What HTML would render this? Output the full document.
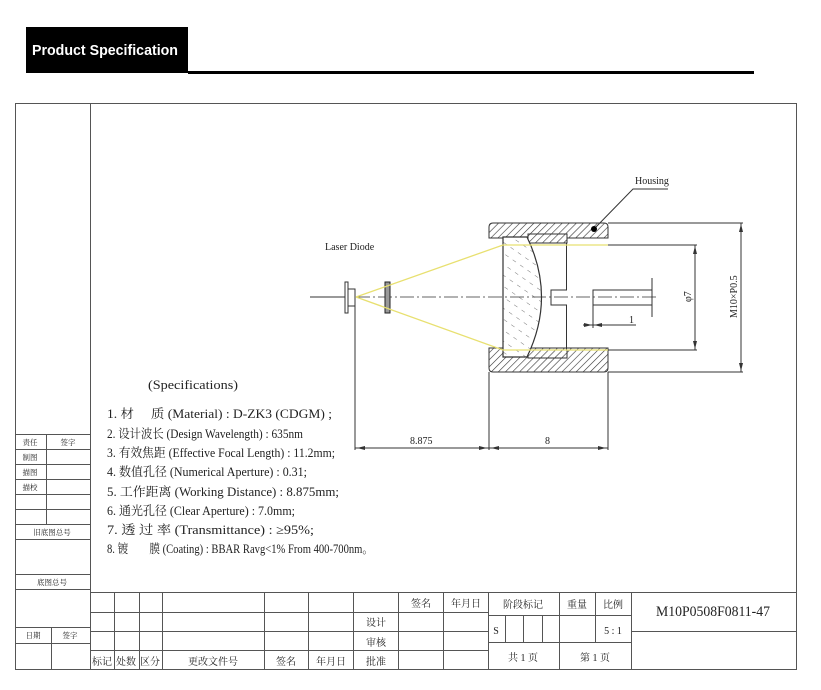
<!DOCTYPE html>
<html><head><meta charset="utf-8"><style>
html,body{margin:0;padding:0;background:#fff;}
svg{display:block;}
text{font-family:"Liberation Serif","Noto Serif CJK SC","Noto Sans CJK SC",serif;fill:#222;}
</style></head><body>
<svg width="821" height="690" viewBox="0 0 821 690" xmlns="http://www.w3.org/2000/svg">
<defs>
<pattern id="h" patternUnits="userSpaceOnUse" width="5" height="5" patternTransform="rotate(45)">
<rect width="5" height="5" fill="#fff"/><line x1="0" y1="0" x2="0" y2="5" stroke="#333" stroke-width="1.2"/></pattern>
<pattern id="g" patternUnits="userSpaceOnUse" width="9" height="9" patternTransform="rotate(-55)">
<rect width="9" height="9" fill="#fff"/><line x1="0" y1="2" x2="0" y2="6" stroke="#555" stroke-width="0.8"/></pattern>
</defs>
<rect x="26" y="27" width="162" height="46" fill="#000"/>
<text x="32" y="55" style="font-family:'Liberation Sans',sans-serif;font-weight:bold;font-size:14.5px;fill:#fff" textLength="146" lengthAdjust="spacingAndGlyphs">Product Specification</text>
<rect x="188" y="71" width="566" height="3" fill="#000"/>
<g fill="none" stroke="#555" stroke-width="1">
<rect x="15.5" y="103.5" width="781" height="566"/>
<line x1="90.5" y1="103" x2="90.5" y2="670"/>
<path d="M15 434.5H90M15 449.5H90M15 464.5H90M15 479.5H90M15 494.5H90M15 509.5H90M15 524.5H90M15 539.5H90M15 574.5H90M15 589.5H90M15 627.5H90M15 643.5H90"/>
<path d="M46.5 434V524M51.5 627V670"/>
<path d="M90 592.5H796M90 612.5H488M90 631.5H488M90 650.5H488M488 615.5H631M488 642.5H631M631 631.5H796"/>
<path d="M114.5 592V670M139.5 592V670M162.5 592V670M264.5 592V670M308.5 592V670M353.5 592V670M398.5 592V670M443.5 592V670M488.5 592V670M559.5 592V670M595.5 592V643M631.5 592V670M505.5 615V643M523.5 615V643M542.5 615V643"/>
</g>
<g font-size="7.5" text-anchor="middle">
<text x="30" y="445">责任</text><text x="68" y="445">签字</text>
<text x="30" y="460">制图</text><text x="30" y="475">描图</text><text x="30" y="490">描校</text>
<text x="52" y="535">旧底图总号</text><text x="52" y="585">底图总号</text>
<text x="33" y="638">日期</text><text x="70" y="638">签字</text>
</g>
<g font-size="10" text-anchor="middle">
<text x="102" y="665">标记</text><text x="126" y="665">处数</text><text x="150" y="665">区分</text>
<text x="213" y="665">更改文件号</text><text x="286" y="665">签名</text><text x="331" y="665">年月日</text>
<text x="376" y="665">批准</text><text x="376" y="646">审核</text><text x="376" y="626">设计</text>
<text x="421" y="607">签名</text><text x="466" y="607">年月日</text><text x="523" y="608">阶段标记</text>
<text x="577" y="608">重量</text><text x="613" y="608">比例</text>
<text x="496" y="634">S</text><text x="613" y="634">5 : 1</text>
<text x="523" y="661">共 1 页</text><text x="595" y="661">第 1 页</text>
</g>
<text x="713" y="616" font-size="15" text-anchor="middle" textLength="114" lengthAdjust="spacingAndGlyphs">M10P0508F0811-47</text>
<text x="148" y="389" font-size="13" textLength="90" lengthAdjust="spacingAndGlyphs">(Specifications)</text>
<g font-size="12.5">
<text x="107" y="418" textLength="225" lengthAdjust="spacingAndGlyphs">1. 材　 质 (Material) : D-ZK3 (CDGM) ;</text>
<text x="107" y="438" textLength="196" lengthAdjust="spacingAndGlyphs">2. 设计波长 (Design Wavelength) : 635nm</text>
<text x="107" y="457" textLength="228" lengthAdjust="spacingAndGlyphs">3. 有效焦距 (Effective Focal Length) : 11.2mm;</text>
<text x="107" y="476" textLength="200" lengthAdjust="spacingAndGlyphs">4. 数值孔径 (Numerical Aperture) : 0.31;</text>
<text x="107" y="496" textLength="232" lengthAdjust="spacingAndGlyphs">5. 工作距离 (Working Distance) : 8.875mm;</text>
<text x="107" y="515" textLength="188" lengthAdjust="spacingAndGlyphs">6. 通光孔径 (Clear Aperture) : 7.0mm;</text>
<text x="107" y="534" textLength="207" lengthAdjust="spacingAndGlyphs">7. 透 过 率 (Transmittance) : ≥95%;</text>
<text x="107" y="553" textLength="266" lengthAdjust="spacingAndGlyphs">8. 镀　　膜 (Coating) : BBAR Ravg&lt;1% From 400-700nm。</text>
</g>
<g stroke="#333" stroke-width="1" fill="none">
<path d="M493 223H604Q608 223 608 227V238H489V227Q489 223 493 223Z" fill="url(#h)"/>
<path d="M489 348H608V368Q608 372 604 372H493Q489 372 489 368Z" fill="url(#h)"/>
<rect x="528" y="234" width="39" height="9" fill="url(#h)"/>
<rect x="528" y="350" width="39" height="8" fill="url(#h)"/>
<path d="M566.5 243V290H551V305H566.5V350"/>
<path d="M503 237H527Q556 297 527 357H503Z" fill="url(#g)" stroke-width="1.2"/>
<path d="M652 290H593V305H652"/>
<line x1="652" y1="278" x2="652" y2="317"/>
<line x1="593" y1="305" x2="593" y2="328"/>
<line x1="583" y1="325" x2="636" y2="325"/>
<line x1="356" y1="297" x2="658" y2="297" stroke-dasharray="14,3,2,3" stroke-width="0.8"/>
<line x1="310" y1="297" x2="345" y2="297"/>
<rect x="345" y="282" width="3" height="31" fill="#fff"/>
<rect x="348" y="289" width="7" height="17" fill="#fff"/>
<rect x="385" y="282" width="5" height="31" fill="#999" stroke="#222"/>
<path d="M608 245H697M608 350H697M695 245V350"/>
<path d="M608 223H743M608 372H743M741 223V372"/>
<path d="M355 306V450M489 372V450M608 372V450M355 448H608"/>
<path d="M594 229L633 189H668"/>
</g>
<circle cx="594" cy="229" r="3" fill="#000"/>
<g stroke="#e8e070" stroke-width="1.3" fill="none">
<path d="M356 297L503 245H608M356 297L503 350H608"/>
</g>
<g fill="#333">
<path d="M357 448l8 -2v4z M487 448l-8 -2v4z M491 448l8 -2v4z M606 448l-8 -2v4z"/>
<path d="M695 246l-2 8h4z M695 349l-2 -8h4z M741 224l-2 8h4z M741 371l-2 -8h4z"/>
<path d="M592 325l-8 -2v4z M594 325l8 -2v4z"/>
</g>
<g font-size="10">
<text x="325" y="250">Laser Diode</text>
<text x="635" y="184">Housing</text>
<text x="410" y="444">8.875</text>
<text x="545" y="444">8</text>
<text x="629" y="323">1</text>
<text transform="translate(691,302) rotate(-90)">φ7</text>
<text transform="translate(737,318) rotate(-90)">M10×P0.5</text>
</g>
</svg>
</body></html>
